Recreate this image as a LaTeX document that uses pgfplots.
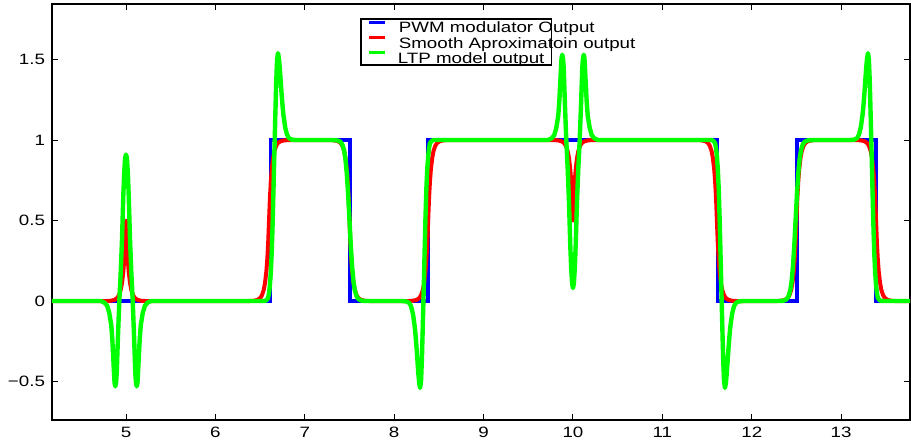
\documentclass[border=0pt]{standalone}
\usepackage{fontspec}
\setmainfont{Liberation Sans}[FakeStretch=1.25]
\usepackage{pgfplots}
\pgfplotsset{compat=1.18}
\definecolor{mblue}{rgb}{0,0,1}
\definecolor{mred}{rgb}{1,0,0}
\definecolor{mgreen}{rgb}{0,1,0}
\begin{document}
\begin{tikzpicture}
\begin{axis}[
  name=ax,
  scale only axis, width=429pt, height=208pt,
  xmin=4.172, xmax=13.77, ymin=-0.739, ymax=1.845,
  xtick={5,6,7,8,9,10,11,12,13}, xticklabels={5,6,7,8,9,10,11,12,13},
  ytick={-0.5,0,0.5,1,1.5}, yticklabels={−0.5,0,0.5,1,1.5},
  tick align=inside, major tick length=3pt,
  axis line style={line width=0.8pt},
  every tick/.style={black, line width=0.5pt},
  tick label style={font=\fontsize{7.5}{9}\selectfont},
  legend cell align=left,
  legend image code/.code={\draw[#1, line width=1.5pt, line cap=butt] (0pt,2.7pt) -- (8pt,2.7pt);},
  legend style={at={(0.359,0.966)}, anchor=north west, draw=black, line width=0.8pt,
    inner xsep=3.5pt, inner ysep=0.8pt, row sep=1.45pt,
    font=\fontsize{7.5}{9}\selectfont,
    nodes={inner sep=0pt, text height=5.4pt, text depth=0pt},
    /tikz/every odd column/.append style={column sep=5.5pt}},
]
\addplot[mblue, line width=1.8pt] coordinates {
(4.1,0)(6.615,0)(6.615,1)(7.505,1)(7.505,0)(8.38,0)(8.38,1)(11.615,1)(11.615,0)(12.505,0)(12.505,1)(13.39,1)(13.39,0)(13.85,0)};
\addlegendentry{\makebox[0pt][l]{PWM modulator Output}}
\addplot[mred, line width=2pt, line join=round] coordinates {
(4.1,0)(4.78,0)
(4.83,0.002)(4.87,0.007)(4.90,0.018)(4.92,0.035)(4.94,0.068)(4.955,0.112)(4.97,0.184)(4.98,0.257)(4.99,0.358)(5.00,0.5)(5.01,0.358)(5.02,0.257)(5.03,0.184)(5.045,0.112)(5.06,0.068)(5.08,0.035)(5.10,0.018)(5.13,0.007)(5.17,0.002)(5.22,0)
(6.38,0)(6.43,0.002)(6.47,0.007)(6.50,0.018)(6.52,0.035)(6.54,0.068)(6.555,0.112)(6.57,0.184)(6.58,0.257)(6.59,0.358)(6.60,0.5)(6.61,0.642)(6.62,0.743)(6.63,0.816)(6.645,0.888)(6.66,0.932)(6.68,0.965)(6.70,0.982)(6.73,0.993)(6.77,0.998)(6.82,1)
(7.28,1)(7.33,0.998)(7.37,0.993)(7.40,0.982)(7.42,0.965)(7.44,0.932)(7.455,0.888)(7.47,0.816)(7.48,0.743)(7.49,0.642)(7.50,0.5)(7.51,0.358)(7.52,0.257)(7.53,0.184)(7.545,0.112)(7.56,0.068)(7.58,0.035)(7.60,0.018)(7.63,0.007)(7.67,0.002)(7.72,0)
(8.16,0)(8.21,0.002)(8.25,0.007)(8.28,0.018)(8.30,0.035)(8.32,0.068)(8.335,0.112)(8.35,0.184)(8.36,0.257)(8.37,0.358)(8.38,0.5)(8.39,0.642)(8.40,0.743)(8.41,0.816)(8.425,0.888)(8.44,0.932)(8.46,0.965)(8.48,0.982)(8.51,0.993)(8.55,0.998)(8.60,1)
(9.78,1)(9.83,0.998)(9.87,0.993)(9.90,0.982)(9.92,0.965)(9.94,0.932)(9.955,0.888)(9.97,0.816)(9.98,0.743)(9.99,0.642)(10.00,0.5)(10.01,0.642)(10.02,0.743)(10.03,0.816)(10.045,0.888)(10.06,0.932)(10.08,0.965)(10.10,0.982)(10.13,0.993)(10.17,0.998)(10.22,1)
(11.39,1)(11.44,0.998)(11.48,0.993)(11.51,0.982)(11.53,0.965)(11.55,0.932)(11.565,0.888)(11.58,0.816)(11.59,0.743)(11.60,0.642)(11.61,0.5)(11.62,0.358)(11.63,0.257)(11.64,0.184)(11.655,0.112)(11.67,0.068)(11.69,0.035)(11.71,0.018)(11.74,0.007)(11.78,0.002)(11.83,0)
(12.28,0)(12.33,0.002)(12.37,0.007)(12.40,0.018)(12.42,0.035)(12.44,0.068)(12.455,0.112)(12.47,0.184)(12.48,0.257)(12.49,0.358)(12.50,0.5)(12.51,0.642)(12.52,0.743)(12.53,0.816)(12.545,0.888)(12.56,0.932)(12.58,0.965)(12.60,0.982)(12.63,0.993)(12.67,0.998)(12.72,1)
(13.17,1)(13.22,0.998)(13.26,0.993)(13.29,0.982)(13.31,0.965)(13.33,0.932)(13.345,0.888)(13.36,0.816)(13.37,0.743)(13.38,0.642)(13.39,0.5)(13.40,0.358)(13.41,0.257)(13.42,0.184)(13.435,0.112)(13.45,0.068)(13.47,0.035)(13.49,0.018)(13.52,0.007)(13.56,0.002)(13.61,0)(13.85,0)};
\addlegendentry{\makebox[0pt][l]{Smooth Aproximatoin output}}
\addplot[mgreen, line width=2.2pt, line join=round] coordinates {
(4.1,0)(4.72,0)(4.76,-0.01)(4.79,-0.03)(4.813,-0.075)(4.835,-0.15)(4.847,-0.24)(4.857,-0.35)(4.866,-0.45)(4.872,-0.51)(4.88,-0.53)(4.888,-0.51)(4.896,-0.45)(4.91,-0.22)(4.925,0)(4.94,0.17)(4.955,0.38)(4.97,0.66)(4.98,0.80)(4.99,0.89)(5.00,0.91)(5.01,0.89)(5.02,0.80)(5.03,0.66)(5.045,0.38)(5.06,0.17)(5.075,0)(5.09,-0.22)(5.104,-0.45)(5.112,-0.51)(5.12,-0.53)(5.128,-0.51)(5.134,-0.45)(5.143,-0.35)(5.153,-0.24)(5.165,-0.15)(5.187,-0.075)(5.21,-0.03)(5.24,-0.01)(5.28,0)
(6.55,0)(6.57,0.005)(6.59,0.02)(6.60,0.05)(6.61,0.10)(6.62,0.18)(6.63,0.30)(6.64,0.48)(6.65,0.70)(6.66,0.93)(6.67,1.15)(6.68,1.36)(6.69,1.50)(6.70,1.54)(6.71,1.51)(6.72,1.45)(6.73,1.37)(6.74,1.29)(6.75,1.22)(6.76,1.16)(6.78,1.08)(6.80,1.035)(6.82,1.013)(6.85,1.003)(6.90,1)
(7.30,1)(7.35,0.999)(7.38,0.995)(7.40,0.988)(7.42,0.972)(7.44,0.935)(7.455,0.881)(7.47,0.791)(7.485,0.661)(7.50,0.5)(7.515,0.339)(7.53,0.209)(7.545,0.119)(7.56,0.065)(7.58,0.028)(7.60,0.012)(7.62,0.005)(7.65,0.001)(7.70,0)
(8.09,0)(8.14,-0.003)(8.17,-0.013)(8.19,-0.035)(8.21,-0.08)(8.23,-0.16)(8.24,-0.22)(8.25,-0.29)(8.26,-0.37)(8.27,-0.45)(8.28,-0.51)(8.29,-0.54)(8.30,-0.50)(8.31,-0.36)(8.32,-0.15)(8.33,0.07)(8.34,0.30)(8.35,0.52)(8.36,0.70)(8.37,0.82)(8.38,0.90)(8.39,0.95)(8.40,0.98)(8.42,0.995)(8.44,1)
(9.72,1)(9.76,1.01)(9.79,1.03)(9.813,1.075)(9.835,1.15)(9.847,1.24)(9.857,1.35)(9.866,1.45)(9.872,1.51)(9.88,1.53)(9.888,1.51)(9.896,1.45)(9.91,1.22)(9.925,1.0)(9.94,0.83)(9.955,0.62)(9.97,0.34)(9.98,0.20)(9.99,0.11)(10.00,0.08)(10.01,0.11)(10.02,0.20)(10.03,0.34)(10.045,0.62)(10.06,0.83)(10.075,1.0)(10.09,1.22)(10.104,1.45)(10.112,1.51)(10.12,1.53)(10.128,1.51)(10.134,1.45)(10.143,1.35)(10.153,1.24)(10.165,1.15)(10.187,1.075)(10.21,1.03)(10.24,1.01)(10.28,1)
(11.55,1)(11.57,0.995)(11.59,0.98)(11.60,0.95)(11.61,0.90)(11.62,0.82)(11.63,0.70)(11.64,0.52)(11.65,0.30)(11.66,0.07)(11.67,-0.15)(11.68,-0.36)(11.69,-0.50)(11.70,-0.54)(11.71,-0.51)(11.72,-0.45)(11.73,-0.37)(11.74,-0.29)(11.75,-0.22)(11.76,-0.16)(11.78,-0.08)(11.80,-0.035)(11.82,-0.013)(11.85,-0.003)(11.90,0)
(12.29,0)(12.34,0.001)(12.37,0.005)(12.39,0.012)(12.41,0.028)(12.43,0.065)(12.445,0.119)(12.46,0.209)(12.475,0.339)(12.49,0.5)(12.505,0.661)(12.52,0.791)(12.535,0.881)(12.55,0.935)(12.57,0.972)(12.59,0.988)(12.61,0.995)(12.64,0.999)(12.69,1)
(13.10,1)(13.15,1.003)(13.18,1.013)(13.20,1.035)(13.22,1.08)(13.24,1.16)(13.25,1.22)(13.26,1.29)(13.27,1.37)(13.28,1.45)(13.29,1.51)(13.30,1.54)(13.31,1.50)(13.32,1.36)(13.33,1.15)(13.34,0.93)(13.35,0.70)(13.36,0.48)(13.37,0.30)(13.38,0.18)(13.39,0.10)(13.40,0.05)(13.41,0.02)(13.43,0.005)(13.45,0)(13.85,0)};
\addlegendentry{LTP model output}
\end{axis}
\pgfresetboundingbox
\path ([shift={(-26pt,-10.5pt)}]ax.south west) rectangle ([shift={(0.5pt,2pt)}]ax.north east);
\end{tikzpicture}
\end{document}
